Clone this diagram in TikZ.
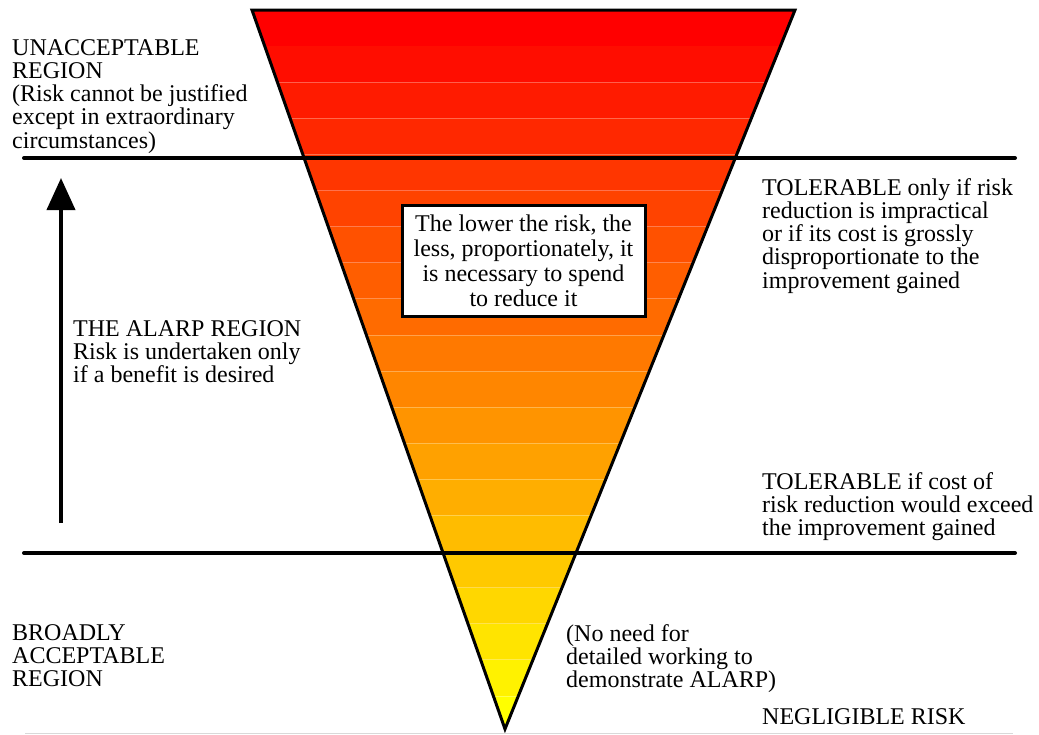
\documentclass[tikz,border=0pt]{standalone}
\usepackage{fontspec}
\setmainfont{Liberation Serif}
\usetikzlibrary{arrows.meta}
\begin{document}
\begin{tikzpicture}[x=1pt,y=-1pt,
  txt/.style={inner sep=0pt, anchor=base west, align=left,
    font=\fontsize{24}{23.3}\selectfont},
  rule/.style={line width=4pt, line cap=round},
  notebox/.style={draw, line width=3pt, fill=white, inner sep=0pt,
    minimum width=243pt, minimum height=111pt, align=center,
    font=\fontsize{24}{25}\selectfont},
  seam/.style={white, opacity=0.3, line width=0.8pt}]
\useasboundingbox (0,0) rectangle (1039,734);

% corners of the risk triangle
\coordinate (TL) at (252,10);
\coordinate (TR) at (795,10);
\coordinate (AP) at (505,729);

% graded bands, red at the top to yellow at the point
\begin{scope}
  \clip (TL) -- (TR) -- (AP) -- cycle;
  \foreach \i in {0,...,19}{
    \pgfmathtruncatemacro\g{round(\i*255/19)}
    \definecolor{bandcol}{RGB}{255,\g,0}
    \pgfmathsetmacro\ya{10+\i*36.1}
    \fill[bandcol] (240,\ya) rectangle (810,{\ya+36.6});
  }
  \foreach \i in {2,...,19}{
    \pgfmathsetmacro\yb{10+\i*36.1}
    \draw[seam] (240,\yb) -- (810,\yb);
  }
\end{scope}
\draw[line width=3pt, line join=miter] (TL) -- (TR) -- (AP) -- cycle;

% faint base line
\coordinate (B1) at (25,733);
\coordinate (B2) at (1013,733);
\draw[black!15, line width=1pt] (B1) -- (B2);

% region boundaries
\coordinate (U1) at (24,158);
\coordinate (U2) at (1015,158);
\coordinate (D1) at (24,553);
\coordinate (D2) at (1015,553);
\draw[rule] (U1) -- (U2);
\draw[rule] (D1) -- (D2);

% ALARP arrow
\coordinate (A1) at (61,523);
\coordinate (A2) at (61,178);
\draw[line width=4pt, -{Triangle[length=32pt,width=28pt]}] (A1) -- (A2);

% labels (each placed by the baseline of its last line)
\node[txt] (unacc) at (12,148.2) {UNACCEPTABLE\\REGION\\(Risk cannot be justified\\except in extraordinary\\circumstances)};
\node[txt] (tolhigh) at (762,288.2) {TOLERABLE only if risk\\reduction is impractical\\or if its cost is grossly\\disproportionate to the\\improvement gained};
\node[txt] (alarp) at (73,382.6) {THE ALARP REGION\\Risk is undertaken only\\if a benefit is desired};
\node[txt] (tollow) at (762,535.6) {TOLERABLE if cost of\\risk reduction would exceed\\the improvement gained};
\node[txt] (broad) at (12,686.6) {BROADLY\\ACCEPTABLE\\REGION};
\node[txt] (noneed) at (566,687.6) {(No need for\\detailed working to\\demonstrate ALARP)};
\node[txt] (neglig) at (762,724) {NEGLIGIBLE RISK};

\node[notebox] (note) at (523.5,260.5) {The lower the risk, the\\less, proportionately, it\\is necessary to spend\\to reduce it};
\end{tikzpicture}
\end{document}
